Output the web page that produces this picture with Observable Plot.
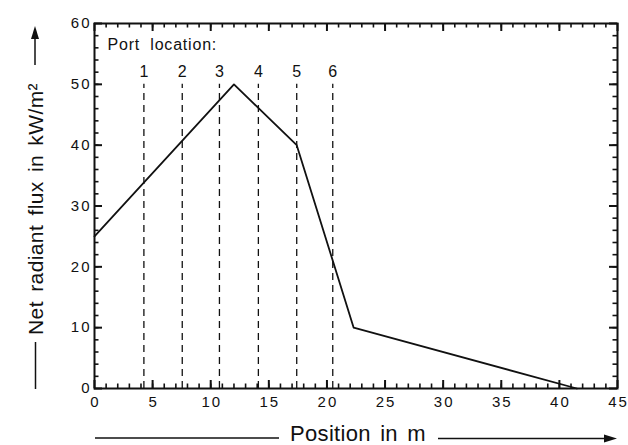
<!DOCTYPE html>
<html><head><meta charset="utf-8">
<script src="https://cdn.jsdelivr.net/npm/d3@7"></script>
<script src="https://cdn.jsdelivr.net/npm/@observablehq/plot@0.6"></script>
<style>
body{margin:0;background:#fff;}
g[aria-label$="tick label"] text{letter-spacing:2px;}
g.port-title text{letter-spacing:0.8px;word-spacing:5px;}
g.x-title text{letter-spacing:0.3px;word-spacing:3px;}
g.y-title text{letter-spacing:0.4px;word-spacing:3px;}
</style></head><body><div id="chart"></div>
<script>
// Data
const positions = [0, 12, 17.4, 22.3, 41.5];
const flux = [25, 50, 40, 10, 0];
const portNames = ["1", "2", "3", "4", "5", "6"];
const portPositions = [4.25, 7.55, 10.75, 14.1, 17.4, 20.5];
const portTop = 50;
const xTicks = [0, 5, 10, 15, 20, 25, 30, 35, 40, 45];
const yTicks = [0, 10, 20, 30, 40, 50, 60];
const xMinor = d3.range(1, 45, 1);
const yMinor = d3.range(2, 60, 2);
const xLabel = "Position in m";
const yLabel = "Net radiant flux in kW/m²";
const portTitle = "Port location:";

const curve = positions.map((x, i) => ({x, y: flux[i]}));
const ports = portPositions.map((x, i) => ({x, name: portNames[i]}));

const font = "Liberation Sans, Arial, Helvetica, sans-serif";
const W = 628, H = 445;
const mL = 94, mR = 11, mT = 23, mB = 57;
const xDom = [0, 45], yDom = [0, 60];
const ink = "#111";

// inward tick lengths in pixels, converted to data units via the frame size
const pxX = (W - mL - mR) / (xDom[1] - xDom[0]);
const pxY = (H - mT - mB) / (yDom[1] - yDom[0]);
const minorPx = 4.5, majorPx = 8;

function xTickRules(values, len, sw) {
  const l = len / pxY;
  return [
    Plot.ruleX(values, {x: d => d, y1: yDom[0], y2: yDom[0] + l, stroke: ink, strokeWidth: sw}),
    Plot.ruleX(values, {x: d => d, y1: yDom[1], y2: yDom[1] - l, stroke: ink, strokeWidth: sw})
  ];
}
function yTickRules(values, len, sw) {
  const l = len / pxX;
  return [
    Plot.ruleY(values, {y: d => d, x1: xDom[0], x2: xDom[0] + l, stroke: ink, strokeWidth: sw}),
    Plot.ruleY(values, {y: d => d, x1: xDom[1], x2: xDom[1] - l, stroke: ink, strokeWidth: sw})
  ];
}

const plot = Plot.plot({
  width: W, height: H,
  marginLeft: mL, marginRight: mR, marginTop: mT, marginBottom: mB,
  style: {fontFamily: font, fontSize: "15px"},
  x: {domain: xDom, label: null},
  y: {domain: yDom, label: null},
  marks: [
    Plot.frame({stroke: ink, strokeWidth: 2, fill: "none"}),
    // tick labels
    Plot.axisX(xTicks, {anchor: "bottom", tickSize: 0, tickPadding: 8, label: null, dx: 1, fontSize: 15, fill: ink}),
    Plot.axisY(yTicks, {anchor: "left", tickSize: 0, tickPadding: 3, label: null, fontSize: 15, fill: ink}),
    // port lines
    Plot.ruleX(ports, {x: "x", y1: 0, y2: portTop, stroke: ink, strokeWidth: 1.3, strokeDasharray: "7,5"}),
    Plot.text(ports, {x: "x", text: "name", frameAnchor: "top", lineAnchor: "bottom", dy: 53, fontSize: 16, fill: ink}),
    Plot.text([portTitle], {frameAnchor: "top-left", textAnchor: "start", lineAnchor: "bottom", dx: 13, dy: 26, fontSize: 16, fill: ink, className: "port-title"}),
    // curve
    Plot.line(curve, {x: "x", y: "y", stroke: ink, strokeWidth: 1.8}),
    // axis titles
    Plot.text([xLabel], {frameAnchor: "bottom", lineAnchor: "bottom", dx: 2, dy: 52, fontSize: 22, fill: ink, className: "x-title"}),
    Plot.text([yLabel], {frameAnchor: "left", textAnchor: "middle", rotate: -90, lineAnchor: "bottom", dx: -52, dy: 3, fontSize: 21, fill: ink, className: "y-title"}),
    // inward ticks on all four sides
    ...xTickRules(xMinor, minorPx, 1.6),
    ...yTickRules(yMinor, minorPx, 1.6),
    ...xTickRules(xTicks, majorPx, 2),
    ...yTickRules(yTicks, majorPx, 2)
  ]
});

// decorative axis-title arrows
const svg = d3.select(plot);
const g = svg.append("g").attr("stroke", ink).attr("fill", ink);
g.append("line").attr("x1", 95).attr("x2", 279).attr("y1", 438).attr("y2", 438).attr("stroke-width", 1.5);
g.append("line").attr("x1", 438).attr("x2", 607).attr("y1", 438.5).attr("y2", 438.5).attr("stroke-width", 1.5);
g.append("path").attr("d", "M617,438.5 L604,434.5 L604,442.5 Z").attr("stroke", "none");
g.append("line").attr("x1", 35.5).attr("x2", 35.5).attr("y1", 342).attr("y2", 389).attr("stroke-width", 1.5);
g.append("line").attr("x1", 35).attr("x2", 35).attr("y1", 65).attr("y2", 36).attr("stroke-width", 1.5);
g.append("path").attr("d", "M35,26 L31,39 L39,39 Z").attr("stroke", "none");

document.getElementById("chart").appendChild(plot);
</script></body></html>
